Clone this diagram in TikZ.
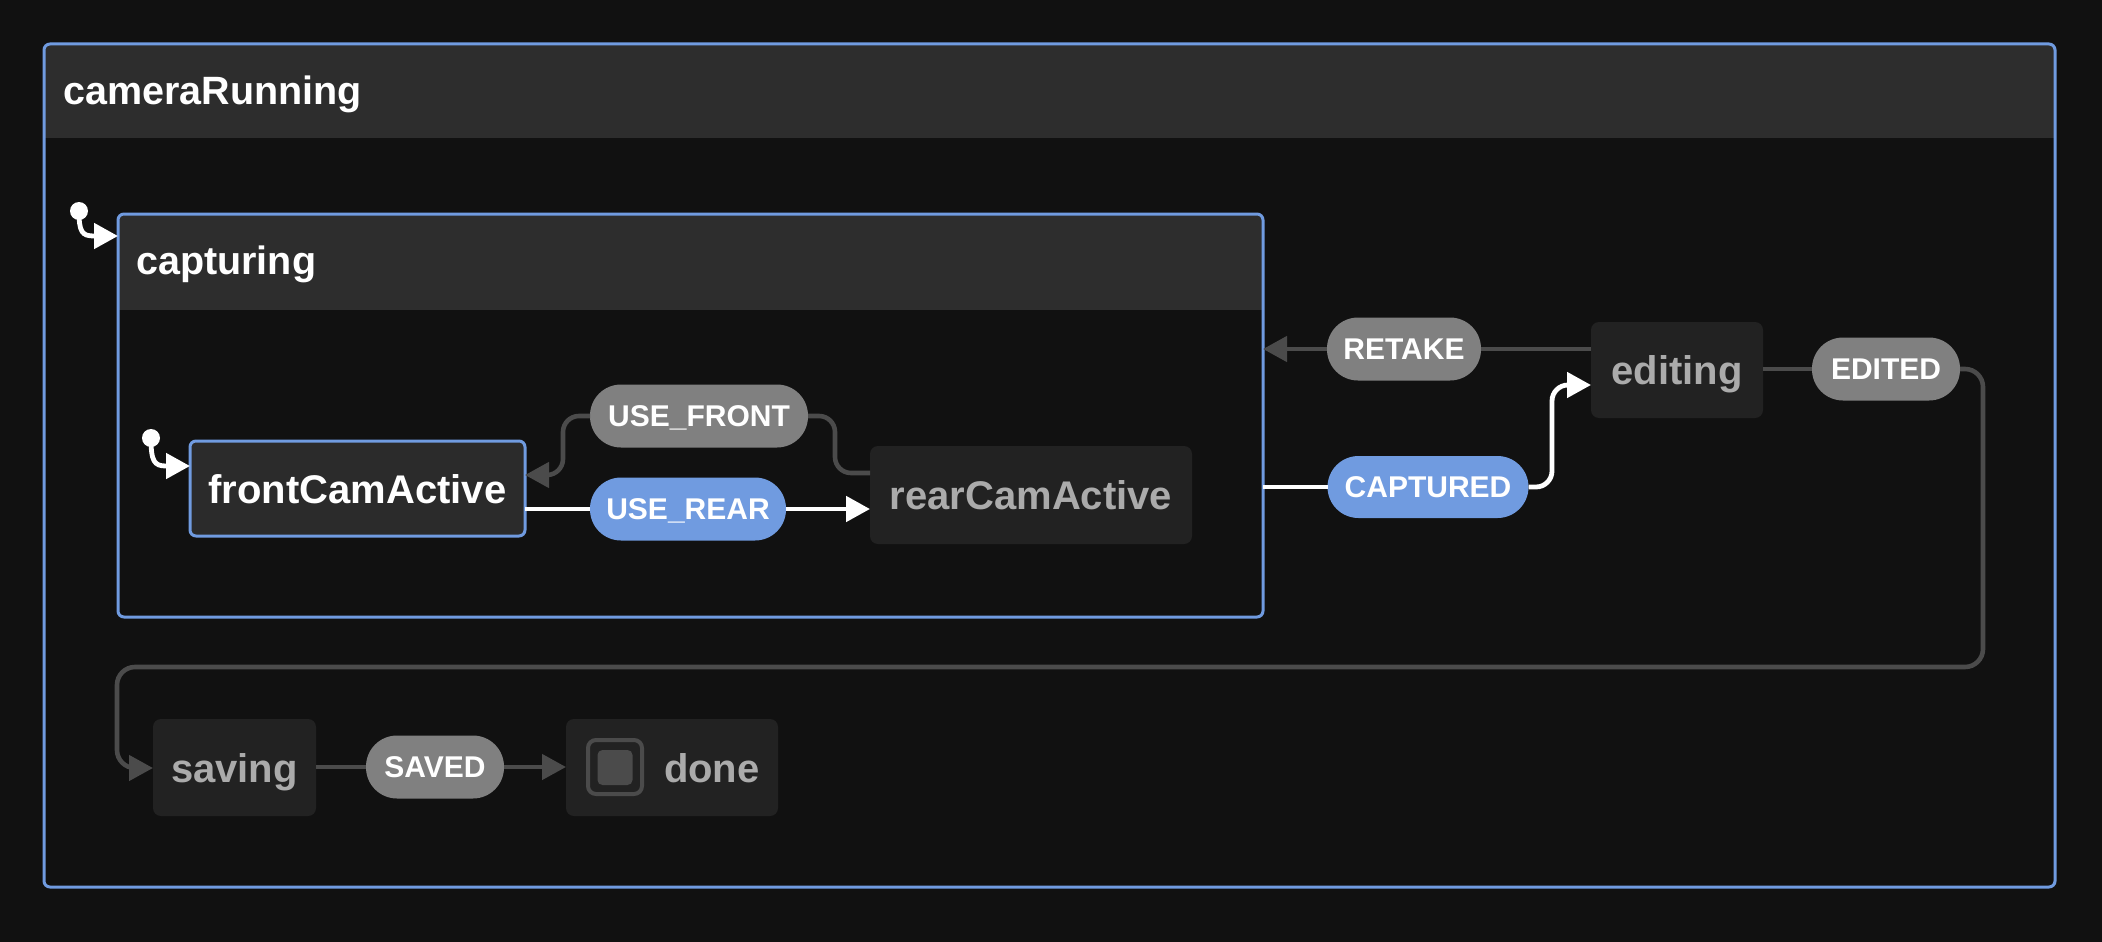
\documentclass[tikz,border=0pt]{standalone}
\usepackage{fontspec}
\setmainfont{Liberation Sans}
\usetikzlibrary{arrows.meta}
\definecolor{bgc}{HTML}{111111}
\definecolor{hdr}{HTML}{2D2D2D}
\definecolor{bluec}{HTML}{709BE0}
\definecolor{stfill}{HTML}{222222}
\definecolor{actfill}{HTML}{2B2B2B}
\definecolor{labgray}{HTML}{808080}
\definecolor{congray}{HTML}{4B4B4B}
\definecolor{txtgray}{HTML}{ABABAB}
\tikzset{
  container/.style={rectangle, fill=bgc, rounded corners=6pt, inner sep=0pt, outer sep=0pt},
  border/.style={draw=bluec, line width=3pt},
  ttl/.style={text=white, font=\fontsize{39.5}{47}\selectfont\bfseries, inner sep=0pt},
  stbox/.style={rectangle, fill=stfill, rounded corners=8pt, inner sep=0pt, outer sep=0pt,
    text=txtgray, font=\fontsize{40}{48}\selectfont\bfseries, text height=29pt, text depth=0pt},
  actbox/.style={stbox, fill=actfill, draw=bluec, line width=3pt, text=white, rounded corners=6pt},
  evlabel/.style={rectangle, rounded corners=31pt, inner sep=0pt, outer sep=0pt, minimum height=63pt,
    text=white, font=\fontsize{30}{36}\selectfont\bfseries, text height=21.5pt, text depth=0pt},
  evgray/.style={evlabel, fill=labgray},
  evblue/.style={evlabel, fill=bluec},
  conW/.style={draw=white, line width=4.8pt, rounded corners=16pt},
  conG/.style={draw=congray, line width=4.6pt, rounded corners=16pt},
  tipW/.style={-{Triangle[length=24pt,width=25pt]}},
  initdot/.style={circle, fill=white, minimum size=18pt, inner sep=0pt},
}
\begin{document}
\begin{tikzpicture}[x=1pt,y=-1pt]
\useasboundingbox (0,0) rectangle (2102,942);
\fill[bgc] (0,0) rectangle (2102,942);

% cameraRunning container
\node[container, minimum width=2011pt, minimum height=843pt] (camrun) at (1049.5,465.5) {};
\begin{scope}
  \clip[rounded corners=6pt] (camrun.north west) rectangle (camrun.south east);
  \fill[hdr] (camrun.north west) rectangle (camrun.east |- 0,138);
\end{scope}
\draw[border, rounded corners=6pt] (camrun.north west) rectangle (camrun.south east);
\node[ttl, anchor=base west] (camrunT) at (63,104) {cameraRunning};

% capturing container
\node[container, minimum width=1145pt, minimum height=403pt] (cap) at (690.5,415.5) {};
\begin{scope}
  \clip[rounded corners=6pt] (cap.north west) rectangle (cap.south east);
  \fill[hdr] (cap.north west) rectangle (cap.east |- 0,310);
\end{scope}
\draw[border, rounded corners=6pt] (cap.north west) rectangle (cap.south east);
\node[ttl, anchor=base west] (capT) at (136,274) {capturing};

% states
\node[actbox, minimum width=335pt, minimum height=95pt] (front) at (357.5,488.5) {frontCamActive};
\node[stbox, minimum width=322pt, minimum height=98pt] (rear) at (1031,495) {rearCamActive};
\node[stbox, minimum width=172pt, minimum height=96pt] (editing) at (1677,370) {editing};
\node[stbox, minimum width=163pt, minimum height=97pt] (saving) at (234.5,767.5) {saving};
\node[stbox, minimum width=212pt, minimum height=97pt] (done) at (672,767.5) {};
\node[draw=congray, line width=4pt, rounded corners=8pt, minimum size=54pt, inner sep=0pt] (doneIcon) at (615,767) {};
\node[fill=congray, rounded corners=5pt, minimum size=35pt, inner sep=0pt] (doneDot) at (615,767.5) {};
\node[stbox, fill=none, anchor=west] (doneT) at (664,767.5) {done};

% event labels
\node[evgray, minimum width=218pt] (usefront) at (699,416) {USE\_FRONT};
\node[evblue, minimum width=196pt] (userear) at (688,509) {USE\_REAR};
\node[evblue, minimum width=201pt, minimum height=62pt] (captured) at (1428,487) {CAPTURED};
\node[evgray, minimum width=154pt] (retake) at (1404,349) {RETAKE};
\node[evgray, minimum width=148pt] (edited) at (1886,369) {EDITED};
\node[evgray, minimum width=138pt] (saved) at (435,767) {SAVED};

% initial states
\node[initdot] (init1) at (79,211) {};
\draw[conW, rounded corners=0pt, tipW] (init1.center) .. controls (79,232) and (82,236) .. (94,236) -- (cap.west |- 0,236);
\node[initdot] (init2) at (151,438) {};
\draw[conW, rounded corners=0pt, tipW] (init2.center) .. controls (151,461) and (154,466) .. (166,466) -- (front.west |- 0,466);

% bend points
\coordinate (uf1) at (835,473);
\coordinate (uf2) at (563,475);
\coordinate (cp1) at (1552,487);
\coordinate (cp2) at (1552,385);
\coordinate (ed1) at (1983,369);
\coordinate (ed2) at (1983,667);
\coordinate (ed3) at (117,667);
\coordinate (ed4) at (117,768);

% USE_REAR
\draw[conW] (front.east |- userear) -- (userear.west);
\draw[conW, tipW] (userear.east) -- (rear.west |- userear);
% USE_FRONT
\draw[conG] (rear.west |- uf1) -- (uf1) -- (uf1 |- usefront) -- (usefront.east);
\draw[conG, tipW] (usefront.west) -- (uf2 |- usefront) -- (uf2) -- (front.east |- uf2);
% CAPTURED
\draw[conW] (cap.east |- captured) -- (captured.west);
\draw[conW, tipW] (captured.east) -- (cp1) -- (cp2) -- (editing.west |- cp2);
% RETAKE
\draw[conG] (editing.west |- retake) -- (retake.east);
\draw[conG, tipW] (retake.west) -- (cap.east |- retake);
% EDITED
\draw[conG] (editing.east |- edited) -- (edited.west);
\draw[conG, rounded corners=18pt, tipW] (edited.east) -- (ed1) -- (ed2) -- (ed3) -- (ed4) -- (saving.west |- ed4);
% SAVED
\draw[conG] (saving.east |- saved) -- (saved.west);
\draw[conG, tipW] (saved.east) -- (done.west |- saved);
\end{tikzpicture}
\end{document}
